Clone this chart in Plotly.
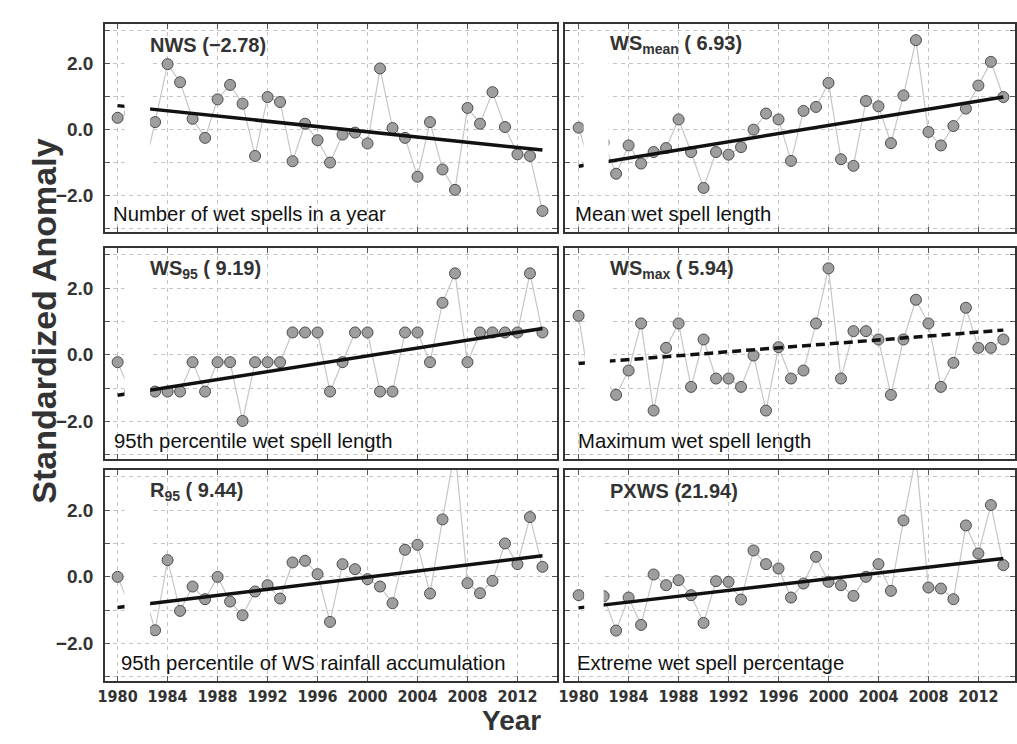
import plotly.graph_objects as go

# ---------------- data ----------------
years = list(range(1980, 2015))

nws = [0.35, 0.5, -1.4, 0.22, 1.98, 1.43, 0.32, -0.26, 0.91, 1.35,
       0.78, -0.81, 0.98, 0.83, -0.97, 0.17, -0.33, -1.01, -0.16, -0.10,
       -0.43, 1.85, 0.04, -0.26, -1.44, 0.22, -1.22, -1.84, 0.65, 0.17,
       1.13, 0.07, -0.76, -0.81, -2.48]
ws_mean = [0.05, -1.2, -0.4, -1.35, -0.49, -1.04, -0.69, -0.57, 0.30, -0.69,
           -1.78, -0.69, -0.77, -0.54, -0.01, 0.48, 0.30, -0.96, 0.56, 0.68,
           1.41, -0.91, -1.11, 0.86, 0.70, -0.42, 1.03, 2.71, -0.08, -0.49,
           0.10, 0.63, 1.33, 2.05, 0.98]
ws95 = [-0.22, -1.10, -1.10, -1.10, -1.10, -1.10, -0.22, -1.10, -0.22, -0.22,
        -1.98, -0.22, -0.22, -0.22, 0.67, 0.67, 0.67, -1.10, -0.22, 0.67,
        0.67, -1.10, -1.10, 0.67, 0.67, -0.22, 1.56, 2.44, -0.22, 0.67,
        0.67, 0.67, 0.67, 2.44, 0.67]
ws_max = [1.17, -1.20, -0.71, -1.20, -0.47, 0.94, -1.67, 0.21, 0.94, -0.96,
          0.46, -0.71, -0.71, -0.96, -0.02, -1.67, 0.23, -0.71, -0.47, 0.94,
          2.59, -0.71, 0.71, 0.71, 0.46, -1.20, 0.46, 1.65, 0.94, -0.96,
          -0.24, 1.41, 0.21, 0.21, 0.46]
r95 = [0.0, -0.9, -0.3, -1.60, 0.50, -1.02, -0.29, -0.67, 0.0, -0.74,
       -1.15, -0.44, -0.25, -0.65, 0.43, 0.48, 0.08, -1.35, 0.38, 0.23,
       -0.07, -0.29, -0.79, 0.81, 0.96, -0.50, 1.72, 3.8, -0.19, -0.49,
       -0.12, 1.00, 0.38, 1.79, 0.30]
pxws = [-0.55, -0.85, -0.58, -1.61, -0.62, -1.44, 0.07, -0.25, -0.10, -0.55,
        -1.38, -0.13, -0.15, -0.68, 0.79, 0.38, 0.25, -0.62, -0.20, 0.60,
        -0.15, -0.25, -0.57, 0.0, 0.38, -0.42, 1.69, 3.6, -0.32, -0.35,
        -0.67, 1.54, 0.70, 2.15, 0.35]

trend_years = [1980, 2014]
trend_nws = [0.72, -0.63]
trend_ws_mean = [-1.12, 0.98]
trend_ws95 = [-1.21, 0.79]
trend_ws_max = [-0.26, 0.74]
trend_r95 = [-0.92, 0.63]
trend_pxws = [-0.93, 0.55]

panel_titles = ["NWS (\u22122.78)", "WS<sub>mean</sub> ( 6.93)", "WS<sub>95</sub> ( 9.19)",
                "WS<sub>max</sub> ( 5.94)", "R<sub>95</sub> ( 9.44)", "PXWS (21.94)"]
panel_desc = ["Number of wet spells in a year", "Mean wet spell length",
              "95th percentile wet spell length", "Maximum wet spell length",
              "95th percentile of WS rainfall accumulation", "Extreme wet spell percentage"]

x_tickvals = [1980, 1984, 1988, 1992, 1996, 2000, 2004, 2008, 2012]
x_ticktext = ["1980", "1984", "1988", "1992", "1996", "2000", "2004", "2008", "2012"]
y_tickvals = [-3, -2, -1, 0, 1, 2, 3]
y_ticktext = ["", "\u22122.0", "", "0.0", "", "2.0", ""]

series = [nws, ws_mean, ws95, ws_max, r95, pxws]
trends = [trend_nws, trend_ws_mean, trend_ws95, trend_ws_max, trend_r95, trend_pxws]
trend_dash = ["solid", "solid", "solid", "9px,5px", "solid", "solid"]

# ---------------- layout geometry (pixels) ----------------
W, H = 1017, 744
cols_px = [(99, 555), (563, 1017)]
rows_px = [(24, 232), (248, 459), (470, 681)]
x_ranges = [[1979.0, 2015.17], [1978.91, 2014.93]]
y_range = [-3.12, 3.2]
mask_x = [(1980.55, 1982.6), (1980.4, 1982.4), (1980.55, 1982.6),
          (1980.5, 1982.5), (1980.55, 1982.6), (1980.45, 1982.0)]
desc_x = [0.013, 0.017, 0.015, 0.024, 0.030, 0.022]

fig = go.Figure()
layout = dict(width=W, height=H, margin=dict(l=0, r=0, t=0, b=0),
              paper_bgcolor="white", plot_bgcolor="white", showlegend=False)

annotations = []
shapes = []
FONT = "Liberation Sans, Arial, sans-serif"
tick_font = dict(family=FONT, size=19, color="#333333", weight="bold")
xtick_font = dict(family="Liberation Sans Narrow, Arial Narrow, DejaVu Sans Condensed, sans-serif",
                  size=16, color="#333333", weight="bold")

for i in range(6):
    r, c = divmod(i, 2)
    n = "" if i == 0 else str(i + 1)
    xa, ya = "x" + n, "y" + n
    x0, x1 = cols_px[c]
    y0, y1 = rows_px[r]
    common = dict(showline=True, linecolor="#333333", linewidth=2, mirror="ticks",
                  ticks="inside", ticklen=5, tickwidth=1, tickcolor="#555555",
                  showgrid=True, gridcolor="#c4c4c4", gridwidth=1, griddash="4px,4px",
                  zeroline=False)
    layout["xaxis" + n] = dict(domain=[x0 / W, x1 / W], range=x_ranges[c], anchor=ya,
                               tickmode="array", tickvals=x_tickvals, ticktext=x_ticktext,
                               showticklabels=(r == 2), tickfont=xtick_font, **common)
    layout["yaxis" + n] = dict(domain=[1 - y1 / H, 1 - y0 / H], range=y_range, anchor=xa,
                               tickmode="array", tickvals=y_tickvals, ticktext=y_ticktext,
                               showticklabels=(c == 0), tickfont=tick_font,
                               ticklabelstandoff=6, **common)

    fig.add_trace(go.Scatter(x=years, y=series[i], xaxis=xa, yaxis=ya, mode="lines+markers",
                             line=dict(color="#c6c6c6", width=1.2),
                             marker=dict(size=11, color="#9e9e9e",
                                         line=dict(color="#4d4d4d", width=1)),
                             hoverinfo="skip"))
    fig.add_trace(go.Scatter(x=trend_years, y=trends[i], xaxis=xa, yaxis=ya, mode="lines",
                             line=dict(color="#111111", width=3.5, dash=trend_dash[i]),
                             hoverinfo="skip"))

    shapes.append(dict(type="rect", xref=xa, yref=ya, x0=mask_x[i][0], x1=mask_x[i][1],
                       y0=-1.75, y1=2.9, fillcolor="white", line=dict(width=0), layer="above"))

    annotations.append(dict(text="<b>" + panel_titles[i] + "</b>", xref=xa + " domain", yref=ya + " domain",
                            x=0.095, y=0.9, xanchor="left", yanchor="middle", showarrow=False,
                            font=dict(family=FONT, size=20, color="#333333")))
    annotations.append(dict(text=panel_desc[i], xref=xa + " domain", yref=ya + " domain",
                            x=desc_x[i], y=0.087, xanchor="left", yanchor="middle", showarrow=False,
                            font=dict(family=FONT, size=20.3, color="#111111")))

annotations.append(dict(text="<b>Standardized Anomaly</b>", xref="paper", yref="paper",
                        x=37 / W, y=1 - 321 / H, xanchor="center", yanchor="middle",
                        textangle=-90, showarrow=False,
                        font=dict(family=FONT, size=34, color="#333333")))
annotations.append(dict(text="<b>Year</b>", xref="paper", yref="paper",
                        x=0.5, y=1 - 720 / H, xanchor="center", yanchor="middle", showarrow=False,
                        font=dict(family=FONT, size=28, color="#333333")))

layout["annotations"] = annotations
layout["shapes"] = shapes
fig.update_layout(**layout)
fig.write_html("out.html")
